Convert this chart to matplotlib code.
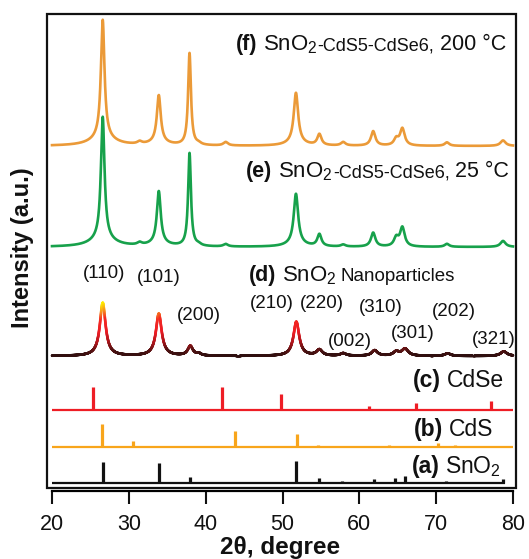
import numpy as np
import matplotlib
matplotlib.use('Agg')
import matplotlib.pyplot as plt
from matplotlib.collections import LineCollection
from matplotlib.colors import LinearSegmentedColormap
from matplotlib.patches import Rectangle

plt.rcParams['font.family'] = ['Liberation Sans', 'DejaVu Sans']
plt.rcParams['mathtext.fontset'] = 'custom'
plt.rcParams['mathtext.rm'] = 'Liberation Sans'
plt.rcParams['mathtext.it'] = 'Liberation Sans:italic'
plt.rcParams['mathtext.bf'] = 'Liberation Sans:bold'

# ---------------- data ----------------
x_ticks = [20, 30, 40, 50, 60, 70, 80]

# measured patterns (e), (f): peak positions (deg), heights (a.u.), half widths (deg)
fe_pos = [26.6, 31.4, 33.9, 37.9, 39.1, 42.6, 51.75, 54.8, 57.9, 61.8, 64.8, 65.6, 71.4, 78.7]
fe_hwhm = [0.28, 0.35, 0.3, 0.22, 0.35, 0.35, 0.34, 0.32, 0.35, 0.34, 0.35, 0.36, 0.35, 0.4]
f_heights = [118, 2.5, 47, 92, 1.5, 3.5, 50, 11, 3.5, 14.5, 6.5, 17, 3.5, 5.5]
e_heights = [122, 2.5, 52, 93, 1.5, 2.5, 50, 12, 2, 14, 8.5, 19, 3, 6]
fe_tail_pos = [26.6, 33.9, 51.75]
fe_tail_hwhm = [1.8, 1.4, 1.4]
f_tail = [8, 3, 3]
e_tail = [8, 3, 3]

# (d) SnO2 nanoparticles
d_pos = [26.6, 33.9, 38.0, 39.1, 51.8, 54.8, 57.9, 62.0, 64.8, 65.95, 71.5, 78.8]
d_hwhm = [0.45, 0.45, 0.4, 0.35, 0.45, 0.45, 0.45, 0.45, 0.45, 0.5, 0.45, 0.5]
d_heights = [53, 42, 9.5, 2, 34, 6, 2.5, 5.5, 4, 7, 2.5, 4.5]

# reference sticks
cdse_pos = [25.4, 29.6, 42.1, 49.8, 61.2, 67.4, 77.2]
cdse_int = [23, 1, 23, 16.5, 4.5, 7.5, 9.5]
cds_pos = [26.5, 30.6, 43.8, 51.9, 54.6, 63.8, 70.3, 72.5]
cds_int = [23, 5.8, 15.5, 12.8, 1.2, 1.5, 4, 1.2]
sno2_pos = [26.6, 33.9, 37.9, 39.0, 51.8, 54.7, 57.8, 61.9, 64.7, 65.9, 69.3, 71.3, 78.7]
sno2_int = [20.5, 19.5, 5.5, 1, 21.5, 4.8, 1.5, 4, 5, 6.5, 0.8, 1.2, 4]

miller_labels = ['(110)', '(101)', '(200)', '(210)', '(220)', '(002)', '(310)', '(301)', '(202)', '(321)']
miller_x = [26.81, 33.83, 39.09, 48.6, 55.08, 58.81, 62.76, 66.91, 72.26, 77.43]
miller_y = [215, 211, 172, 185, 185, 147, 180, 155, 176, 149]

# vertical offsets of the stacked patterns
off_f, off_e, off_d = 342, 241, 132
off_c, off_b, off_a = 78, 41.5, 5.5

# ---------------- figure ----------------
W, H, DPI = 529, 559, 100
fig = plt.figure(figsize=(W / DPI, H / DPI), dpi=DPI)

px_left, px_right, px_top, px_bot = 46.5, 516, 13.5, 488
ax = fig.add_axes([px_left / W, (H - px_bot) / H, (px_right - px_left) / W, (px_bot - px_top) / H])
deg_per_px = 1 / 7.683
ax.set_xlim(20 - (52 - px_left) * deg_per_px, 80 + (px_right - 513) * deg_per_px)
ax.set_ylim(0, px_bot - px_top)
ax.patch.set_alpha(0)

x = np.linspace(20, 80, 4000)


def profile(pos, hts, wid):
    y = np.zeros_like(x)
    for p, h, w in zip(pos, hts, wid):
        y += h / (1 + ((x - p) / w) ** 2)
    return y


yf = profile(fe_pos, f_heights, fe_hwhm) + profile(fe_tail_pos, f_tail, fe_tail_hwhm)
ye = profile(fe_pos, e_heights, fe_hwhm) + profile(fe_tail_pos, e_tail, fe_tail_hwhm)
yd = profile(d_pos, d_heights, d_hwhm)

ax.plot(x, yf + off_f, color='#eb9a38', lw=1.9, zorder=3, solid_joinstyle='round')
ax.plot(x, ye + off_e, color='#17a14b', lw=1.9, zorder=4, solid_joinstyle='round')

cmap = LinearSegmentedColormap.from_list('hot_d', [
    (0.0, '#2e0f0f'), (0.1, '#541212'), (0.25, '#a8141a'), (0.45, '#ec1c24'),
    (0.7, '#f42a22'), (0.83, '#f7881e'), (1.0, '#fff200')])
pts = np.column_stack([x, yd + off_d]).reshape(-1, 1, 2)
segs = np.concatenate([pts[:-1], pts[1:]], axis=1)
lc = LineCollection(segs, cmap=cmap, norm=plt.Normalize(0, yd.max()), lw=1.9, zorder=3,
                    capstyle='round')
lc.set_array(0.5 * (yd[:-1] + yd[1:]))
ax.add_collection(lc)

# sticks
for pos, inten, off, col, xend in [(cdse_pos, cdse_int, off_c, '#ee1d25', 80),
                                   (cds_pos, cds_int, off_b, '#f8a51b', 80),
                                   (sno2_pos, sno2_int, off_a, '#111111', 79)]:
    ax.hlines(off, 20, xend, color=col, lw=1.6, zorder=3)
    ax.vlines(pos, off, np.array(inten) + off, color=col, lw=2.3, zorder=3)

# frame and axis
for s in ['left', 'right', 'top']:
    ax.spines[s].set_visible(False)
ax.add_patch(Rectangle((0, 0), 1, 1, transform=ax.transAxes, fill=False, lw=1.6,
                       ec='#111111', clip_on=False, zorder=5))
ax.spines['bottom'].set_bounds(20, 80)
ax.spines['bottom'].set_position(('outward', 2))
ax.spines['bottom'].set_linewidth(1.6)
ax.set_xticks(x_ticks)
ax.set_yticks([])
ax.tick_params(axis='x', direction='out', length=9.5, width=1.5, labelsize=15.5, pad=7.5,
               colors='#111111')

renderer = fig.canvas.get_renderer()


def run_text(xd, yd_, pieces, align='left'):
    """pieces: (text, size, weight, gap_before_pt)"""
    objs, widths = [], []
    for txt, size, weight, gap in pieces:
        t = ax.annotate(txt, xy=(xd, yd_), xycoords='data', xytext=(0, 0),
                        textcoords='offset points', ha='left', va='baseline',
                        fontsize=size, fontweight=weight, color='#111111', zorder=6)
        widths.append(t.get_window_extent(renderer).width * 72 / DPI)
        objs.append(t)
    total = sum(w + p[3] for w, p in zip(widths, pieces))
    cur = -total if align == 'right' else 0
    for t, w, p in zip(objs, widths, pieces):
        cur += p[3]
        t.set_position((cur, 0))
        cur += w


sno2_txt = r'SnO$_\mathregular{2}$'


def sample_label(letter, temp, xr, yb):
    run_text(xr, yb, [(letter, 15.5, 'bold', 0), (sno2_txt, 16, 'normal', 4),
                      ('-CdS5-CdSe6,', 13, 'normal', 0.2),
                      (temp, 15.5, 'normal', 4)], align='right')


sample_label('(f)', '200 °C', 79.09, 438)
sample_label('(e)', '25 °C', 79.48, 311)
run_text(45.64, 207, [('(d)', 15.5, 'bold', 0), (sno2_txt, 16, 'normal', 4),
                      ('Nanoparticles', 13.5, 'normal', 3)])
run_text(78.83, 101.3, [('(c)', 16.5, 'bold', 0), ('CdSe', 16.5, 'normal', 4)], align='right')
run_text(77.4, 52.3, [('(b)', 16.5, 'bold', 0), ('CdS', 16.5, 'normal', 4)], align='right')
run_text(78.5, 14.7, [('(a)', 16.5, 'bold', 0), (sno2_txt, 16.5, 'normal', 4)], align='right')

for lab, mx, my in zip(miller_labels, miller_x, miller_y):
    ax.text(mx, my, lab, ha='center', va='center', fontsize=13.5, color='#111111', zorder=6)

fig.text(280 / W, (H - 554) / H, '2θ, degree', ha='center', va='baseline', fontsize=17.5,
         fontweight='bold', color='#111111')
fig.text(23 / W, (H - 248) / H, 'Intensity (a.u.)', ha='center', va='center', rotation=90,
         fontsize=17, fontweight='bold', color='#111111')

fig.savefig('out.png', dpi=DPI)
